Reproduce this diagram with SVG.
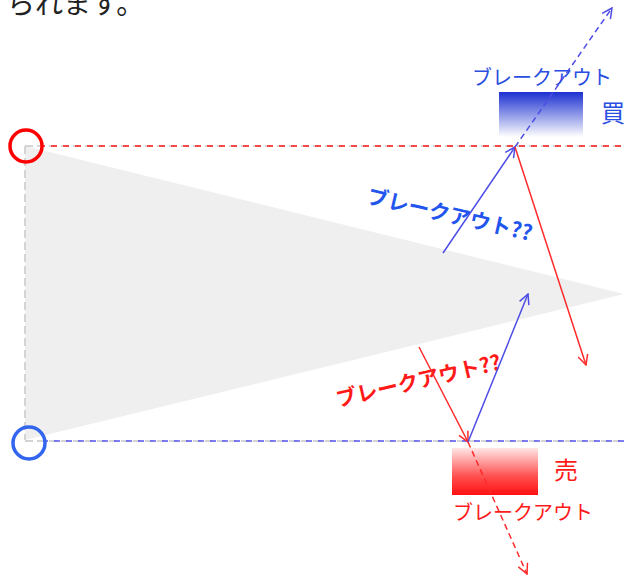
<svg xmlns="http://www.w3.org/2000/svg" width="624" height="577" viewBox="0 0 624 577">
<style>
.jp{font-family:"Noto Sans CJK JP","Noto Sans",sans-serif}
.b{fill:#2a4fe0}
.r{fill:#ff1a1a}
.bl{stroke:#4d4de6;stroke-width:1.5;fill:none}
.rl{stroke:#ff2a2a;stroke-width:1.5;fill:none}
.grid{stroke:#d4d4d4;stroke-width:2;stroke-dasharray:8 4;fill:none}
</style>
<defs>
<linearGradient id="gb" x1="0" y1="0" x2="0" y2="1">
<stop offset="0" stop-color="#1c30d0"/>
<stop offset="1" stop-color="#ffffff"/>
</linearGradient>
<linearGradient id="gr" x1="0" y1="0" x2="0" y2="1">
<stop offset="0" stop-color="#ffe6e6"/>
<stop offset="0.6" stop-color="#ff5050"/>
<stop offset="1" stop-color="#ff1010"/>
</linearGradient>
<marker id="ab" viewBox="0 0 12 12" refX="11" refY="6" markerWidth="12" markerHeight="12" markerUnits="userSpaceOnUse" orient="auto">
<path d="M1,1 L11,6 L1,11" fill="none" stroke="#4d4de6" stroke-width="1.5"/>
</marker>
<marker id="ar" viewBox="0 0 12 12" refX="11" refY="6" markerWidth="12" markerHeight="12" markerUnits="userSpaceOnUse" orient="auto">
<path d="M1,1 L11,6 L1,11" fill="none" stroke="#ff2a2a" stroke-width="1.5"/>
</marker>
</defs>
<rect width="624" height="577" fill="#ffffff"/>
<text class="jp" x="7" y="14" font-size="28" fill="#222">られます。</text>
<g id="triangle">
<polygon points="25,146 25,440 624,294" fill="#efefef"/>
</g>
<g id="levels">
<line class="grid" x1="25" y1="146" x2="25" y2="440"/>
<line class="grid" x1="25" y1="146" x2="624" y2="146"/>
<line class="grid" x1="25" y1="441" x2="624" y2="441"/>
<line x1="42" y1="146" x2="624" y2="146" stroke="#ff1a1a" stroke-width="1.5" stroke-dasharray="6 6" stroke-dashoffset="3"/>
<line x1="45" y1="441" x2="624" y2="441" stroke="#5555ee" stroke-width="1.5" stroke-dasharray="6 6" stroke-dashoffset="3"/>
</g>
<g id="circle-top">
<circle cx="26" cy="146" r="16" fill="none" stroke="#ff0000" stroke-width="3.5"/>
</g>
<g id="circle-bottom">
<circle cx="29" cy="443" r="16" fill="none" stroke="#3366ee" stroke-width="3.5"/>
</g>
<g id="buy">
<rect x="499" y="92" width="84" height="45" fill="url(#gb)"/>
<text class="jp b" x="472" y="85" font-size="20">ブレークアウト</text>
<text class="jp b" x="601" y="122" font-size="24">買</text>
</g>
<g id="sell">
<rect x="452" y="448" width="86" height="47" fill="url(#gr)"/>
<text class="jp r" x="554" y="479" font-size="24">売</text>
<text class="jp r" x="453" y="520" font-size="20">ブレークアウト</text>
</g>
<g id="label-blue">
<text class="jp" fill="#2255ee" font-size="21" font-weight="bold" transform="translate(366,203) rotate(13)">ブレークアウト??</text>
</g>
<g id="label-red">
<text class="jp r" font-size="21" font-weight="bold" transform="translate(338,407) rotate(-13)">ブレークアウト??</text>
</g>
<g id="connectors">
<line class="bl" x1="443" y1="253" x2="515" y2="147" marker-end="url(#ab)"/>
<line class="bl" x1="515" y1="147" x2="612" y2="8" stroke-dasharray="6 4" marker-end="url(#ab)"/>
<line class="rl" x1="515" y1="147" x2="586" y2="365" marker-end="url(#ar)"/>
<line class="rl" x1="419" y1="347" x2="468" y2="442" marker-end="url(#ar)"/>
<line class="bl" x1="468" y1="442" x2="528" y2="294" marker-end="url(#ab)"/>
<line class="rl" x1="468" y1="442" x2="527" y2="574" stroke-dasharray="6 4" marker-end="url(#ar)"/>
</g>
</svg>
